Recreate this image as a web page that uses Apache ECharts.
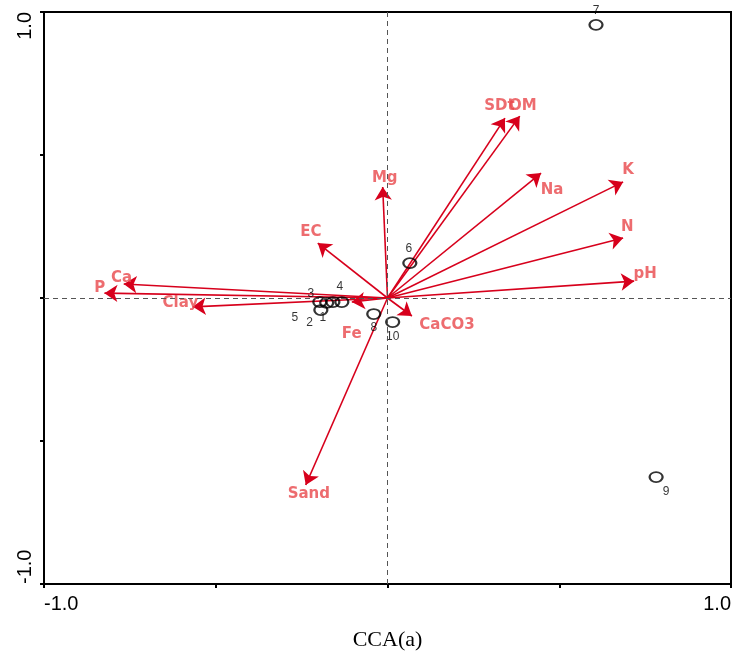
<!DOCTYPE html>
<html>
<head>
<meta charset="utf-8">
<title>CCA biplot</title>
<script src="https://cdn.jsdelivr.net/npm/echarts@6/dist/echarts.min.js"></script>
<style>
  html, body { margin: 0; padding: 0; background: #fff; }
  #main { width: 738px; height: 657px; }
</style>
</head>
<body>
<div id="main"></div>
<script>
// sites (circles)
var sampleIds = ['1', '2', '3', '4', '5', '6', '7', '8', '9', '10'];
var sampleX = [-0.194, -0.177, -0.197, -0.133, -0.159, 0.065, 0.607, -0.040, 0.782, 0.015];
var sampleY = [-0.042, -0.017, -0.014, -0.014, -0.014, 0.122, 0.955, -0.056, -0.626, -0.084];

// environmental variables (arrow tips)
var varNames = ['SDt', 'OM', 'Mg', 'Na', 'K', 'N', 'pH', 'EC', 'Ca', 'P', 'Clay', 'Sand', 'CaCO3', 'Fe'];
var varX = [0.342, 0.385, -0.014, 0.447, 0.686, 0.686, 0.718, -0.203, -0.768, -0.824, -0.567, -0.238, 0.071, -0.104];
var varY = [0.629, 0.636, 0.388, 0.437, 0.406, 0.210, 0.059, 0.192, 0.049, 0.017, -0.031, -0.654, -0.063, -0.014];
// where the variable names sit
var varLabelX = [0.326, 0.394, -0.008, 0.479, 0.700, 0.698, 0.750, -0.223, -0.774, -0.838, -0.603, -0.229, 0.173, -0.104];
var varLabelY = [0.671, 0.671, 0.420, 0.378, 0.448, 0.248, 0.084, 0.231, 0.070, 0.035, -0.017, -0.685, -0.094, -0.126];

var axisTicks = [-1, -0.5, 0, 0.5, 1];

// pixel nudges for the site numbers
var sampleLabelOffsets = [[2, 8], [-17, 20], [-9, -8], [-2, -15], [-38, 16], [-1, -14], [0, -14], [0, 14], [10, 15], [0, 15]];

var red = '#d7001c';
var labelRed = '#e8474b';

var chart = echarts.init(document.getElementById('main'));

var arrowData = varNames.map(function (n, i) {
  return { name: n, coords: [[0, 0], [varX[i], varY[i]]] };
});
var varLabelData = varNames.map(function (n, i) {
  return { name: n, value: [varLabelX[i], varLabelY[i]] };
});
var sampleData = sampleIds.map(function (id, i) {
  return {
    name: id,
    value: [sampleX[i], sampleY[i]],
    label: { offset: sampleLabelOffsets[i] }
  };
});

function tickText(v) {
  if (v === axisTicks[0]) return '-1.0';
  if (v === axisTicks[axisTicks.length - 1]) return '1.0';
  return '';
}

var option = {
  animation: false,
  backgroundColor: '#fff',
  grid: {
    left: 44, right: 7, top: 12, bottom: 73,
    show: true, borderColor: '#000', borderWidth: 2, backgroundColor: 'transparent'
  },
  xAxis: {
    type: 'value', min: -1, max: 1, interval: 0.5,
    name: 'CCA(a)', nameLocation: 'middle', nameGap: 45,
    nameTextStyle: { fontFamily: 'Liberation Serif', fontSize: 22, color: '#000' },
    axisLine: { onZero: false, lineStyle: { color: '#000', width: 2 } },
    axisTick: { length: 4, lineStyle: { color: '#000', width: 2 } },
    axisLabel: {
      formatter: tickText, fontFamily: 'Liberation Sans', fontSize: 20, color: '#000',
      margin: 10, showMinLabel: true, showMaxLabel: true,
      alignMinLabel: 'left', alignMaxLabel: 'right'
    },
    splitLine: { show: false }
  },
  yAxis: {
    type: 'value', min: -1, max: 1, interval: 0.5,
    axisLine: { onZero: false, lineStyle: { color: '#000', width: 2 } },
    axisTick: { length: 4, lineStyle: { color: '#000', width: 2 } },
    axisLabel: {
      formatter: tickText, fontFamily: 'Liberation Sans', fontSize: 20, color: '#000',
      rotate: 90, margin: 9, showMinLabel: true, showMaxLabel: true,
      alignMinLabel: 'left', alignMaxLabel: 'right'
    },
    splitLine: { show: false }
  },
  series: [
    {
      type: 'line', data: [], silent: true,
      markLine: {
        symbol: 'none', silent: true, label: { show: false },
        lineStyle: { color: '#555', type: [5, 4], width: 1 },
        data: [{ xAxis: 0 }, { yAxis: 0 }]
      }
    },
    {
      type: 'lines', coordinateSystem: 'cartesian2d', silent: true,
      symbol: ['none', 'arrow'], symbolSize: [0, 13],
      lineStyle: { color: red, width: 1.6, opacity: 1, curveness: 0 },
      data: arrowData
    },
    {
      type: 'scatter', silent: true, symbolSize: 1,
      itemStyle: { color: 'transparent' },
      label: {
        show: true, position: 'inside', formatter: '{b}',
        fontFamily: 'DejaVu Sans', fontWeight: 'bold', fontSize: 15, color: labelRed
      },
      data: varLabelData
    },
    {
      type: 'scatter', silent: true, symbol: 'circle', symbolSize: [13, 10],
      itemStyle: { color: 'transparent', borderColor: '#000', borderWidth: 2 },
      label: {
        show: true, position: 'inside', formatter: '{b}',
        fontFamily: 'Liberation Sans', fontSize: 12, color: '#000'
      },
      data: sampleData
    }
  ]
};

chart.setOption(option);
</script>
</body>
</html>
